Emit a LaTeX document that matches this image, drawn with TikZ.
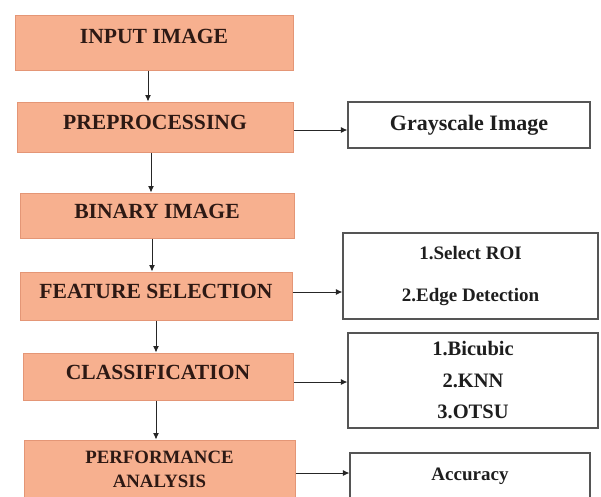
\documentclass[tikz,border=0pt]{standalone}
\usepackage{fontspec}
\setmainfont{Liberation Serif}
\usetikzlibrary{arrows.meta}

\definecolor{stagefill}{RGB}{247,176,143}
\definecolor{stageedge}{RGB}{228,150,118}
\definecolor{stagetext}{RGB}{45,25,20}
\definecolor{outedge}{RGB}{85,85,85}
\definecolor{outtext}{RGB}{30,30,30}

\tikzset{
  stage/.style={draw=stageedge, fill=stagefill, line width=1pt, inner sep=0pt,
    text=stagetext, font=\bfseries\fontsize{21.6}{24}\selectfont, align=center,
    text depth=9pt},
  outbox/.style={draw=outedge, fill=white, line width=1.2pt, inner sep=0pt,
    text=outtext, font=\bfseries\fontsize{19}{22}\selectfont, align=center},
  arr/.style={draw=black!85, line width=0.9pt, -{Latex[length=6.5pt,width=6pt]}}
}

\begin{document}
\begin{tikzpicture}[x=1pt, y=-1pt]
\useasboundingbox (0,0) rectangle (601,496);

% processing stages on the left
\node[stage, minimum width=278pt, minimum height=55pt, text depth=12pt] (A) at (154,42.5) {INPUT IMAGE};
\node[stage, minimum width=276pt, minimum height=50pt] (B) at (155,127) {PREPROCESSING};
\node[stage, minimum width=274pt, minimum height=45pt] (C) at (157,215.5) {BINARY IMAGE};
\node[stage, minimum width=272pt, minimum height=48pt] (D) at (156,296) {FEATURE SELECTION};
\node[stage, minimum width=270pt, minimum height=47pt] (E) at (158,376.5) {CLASSIFICATION};
\node[stage, minimum width=271pt, minimum height=59pt, text depth=0pt,
      font=\bfseries\fontsize{18.8}{24}\selectfont] (F) at (159.5,469.5) {PERFORMANCE\\ANALYSIS};

% outputs on the right
\node[outbox, minimum width=242pt, minimum height=46pt,
      font=\bfseries\fontsize{22}{24}\selectfont] (G) at (469,125) {Grayscale Image};
\node[outbox, minimum width=255pt, minimum height=86pt,
      font=\bfseries\fontsize{19}{42}\selectfont] (H) at (470.5,276) {1.Select ROI\\2.Edge Detection};
\node[outbox, minimum width=250pt, minimum height=95pt,
      font=\bfseries\fontsize{20.5}{31.5}\selectfont] (I) at (473,380.5) {1.Bicubic\\2.KNN\\3.OTSU};
\node[outbox, minimum width=240pt, minimum height=46pt] (J) at (470,476) {Accuracy};

% flow between stages
\draw[arr] (A.south -| 148,0) -- (B.north -| 148,0);
\draw[arr] (B.south -| 151,0) -- (C.north -| 151,0);
\draw[arr] (C.south -| 152,0) -- (D.north -| 152,0);
\draw[arr] (D.south -| 156,0) -- (E.north -| 156,0);
\draw[arr] (E.south -| 156,0) -- (F.north -| 156,0);

% stage outputs
\draw[arr] (B.east |- 0,130) -- (G.west |- 0,130);
\draw[arr] (D.east |- 0,292) -- (H.west |- 0,292);
\draw[arr] (E.east |- 0,382) -- (I.west |- 0,382);
\draw[arr] (F.east |- 0,473) -- (J.west |- 0,473);
\end{tikzpicture}
\end{document}
